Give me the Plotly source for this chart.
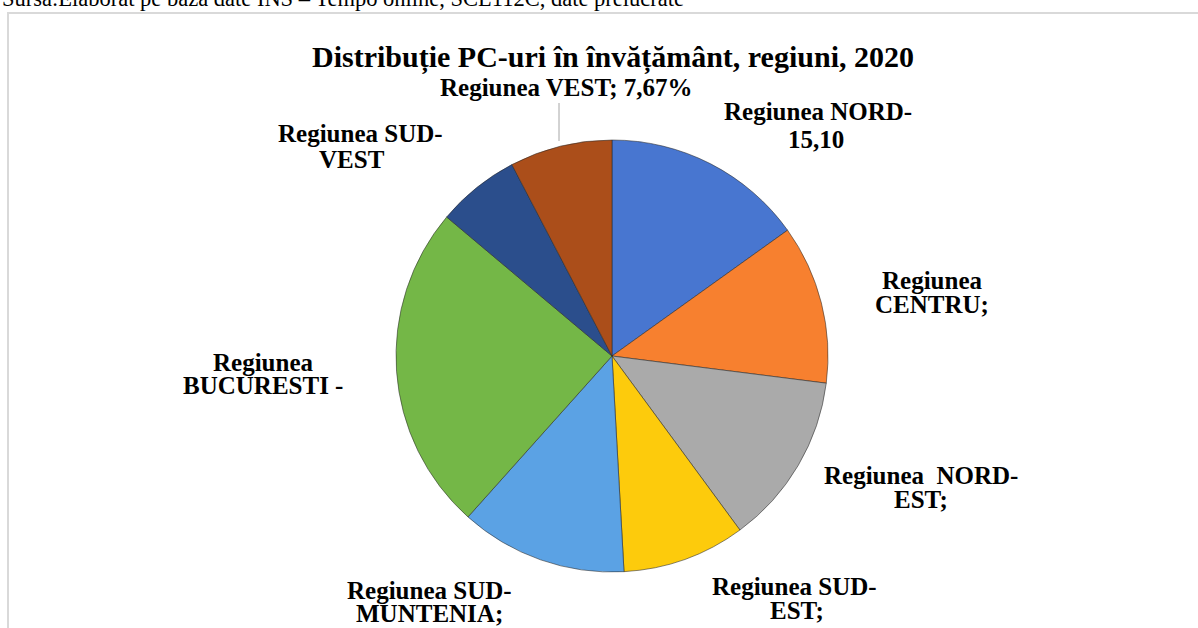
import plotly.graph_objects as go

W, H = 1198, 628

regions = ["Regiunea NORD-VEST", "Regiunea CENTRU", "Regiunea NORD-EST", "Regiunea SUD-EST",
           "Regiunea SUD-MUNTENIA", "Regiunea BUCURESTI - ILFOV", "Regiunea SUD-VEST OLTENIA", "Regiunea VEST"]
shares = [15.10, 11.9, 12.9, 9.2, 12.5, 24.5, 6.2, 7.67]
colors = ["#4876D0", "#F7802F", "#AAAAAA", "#FDCB0C", "#5BA2E4", "#74B747", "#2B4E8C", "#AB4E1A"]

# visible label lines per slice (as in the reference, labels are truncated)
label_lines = [
    ["Regiunea NORD-", "15,10"],
    ["Regiunea", "CENTRU;"],
    ["Regiunea  NORD-", "EST;"],
    ["Regiunea SUD-", "EST;"],
    ["Regiunea SUD-", "MUNTENIA;"],
    ["Regiunea", "BUCURESTI -"],
    ["Regiunea SUD-", "VEST"],
    ["Regiunea VEST; 7,67%"],
]
# label line centres in pixels (layout)
label_pos = [
    [(818, 112), (816, 139)],
    [(932, 280), (932, 304)],
    [(921, 475), (921, 499)],
    [(794, 586), (797, 610)],
    [(429, 590), (429, 613)],
    [(263, 362), (263, 385)],
    [(360, 133), (352, 160)],
    [(566, 87)],
]

title = "Distribuție PC-uri în învățământ, regiuni, 2020"
source = "Sursa:Elaborat pe baza date INS – Tempo online, SCL112C, date prelucrate"


def px(x):
    return x / W


def py(y):
    return 1 - y / H


cx, cy, r = 612, 356, 216

fig = go.Figure()
fig.add_trace(go.Pie(
    labels=regions, values=shares, sort=False, direction="clockwise", rotation=0,
    marker=dict(colors=colors, line=dict(color="rgba(40,40,40,0.55)", width=1)),
    textinfo="none", hoverinfo="label+percent", showlegend=False,
    domain=dict(x=[px(cx - r), px(cx + r)], y=[py(cy + r), py(cy - r)]),
))

font = "Liberation Serif, Times New Roman, serif"
annotations = [
    dict(text="<b>" + title + "</b>", x=px(613), y=py(57), xref="paper", yref="paper",
         showarrow=False, xanchor="center", yanchor="middle",
         font=dict(family=font, size=30, color="#000000")),
    dict(text=source, x=px(0), y=py(13), xref="paper", yref="paper",
         showarrow=False, xanchor="left", yanchor="bottom",
         font=dict(family=font, size=22.5, color="#000000")),
]
for lines, poss in zip(label_lines, label_pos):
    for t, (x, y) in zip(lines, poss):
        annotations.append(dict(text="<b>" + t + "</b>", x=px(x), y=py(y), xref="paper", yref="paper",
                                showarrow=False, xanchor="center", yanchor="middle",
                                font=dict(family=font, size=25, color="#000000")))

shapes = [
    dict(type="rect", xref="paper", yref="paper", x0=px(8), x1=px(1215), y0=py(645), y1=py(13),
         line=dict(color="#D9D9D9", width=2)),
    dict(type="line", xref="paper", yref="paper", x0=px(559), x1=px(559), y0=py(103), y1=py(141),
         line=dict(color="#A6A6A6", width=1)),
]

fig.update_layout(
    width=W, height=H, margin=dict(l=0, r=0, t=0, b=0),
    paper_bgcolor="white", plot_bgcolor="white",
    annotations=annotations, shapes=shapes,
)

fig.write_html("out.html", config={"displayModeBar": False},
               post_script="document.body.style.margin='0';document.body.style.overflow='hidden';")
